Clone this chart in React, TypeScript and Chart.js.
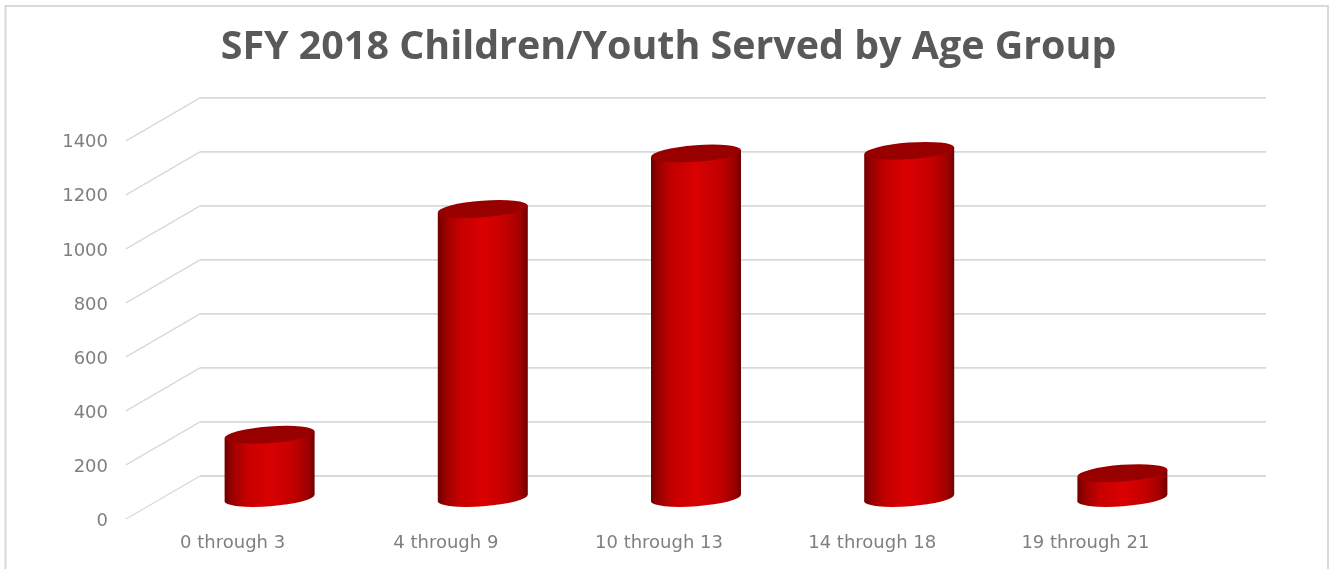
import React, { useEffect, useRef } from "react";
import { Chart, registerables } from "chart.js";

Chart.register(...registerables);

const titleText = "SFY 2018 Children/Youth Served by Age Group";
const categories = ["0 through 3", "4 through 9", "10 through 13", "14 through 18", "19 through 21"];
const served = [234, 1070, 1275, 1285, 92];
const yMax = 1400;
const yStep = 200;

const TITLE_FONT = '"Open Sans", sans-serif';
const TICK_FONT = '"DejaVu Sans", sans-serif';
const DEPTH_X = 74;
const DEPTH_Y = 42;
const BAR_DX = 37;
const BAR_DY = 20;
const TILT = -0.075;
const RY = 8.3;

const wallPlugin = {
  id: "wall3d",
  afterLayout(chart: any) {
    if (chart.titleBlock) {
      chart.titleBlock.left = 4;
      chart.titleBlock.right = 1333;
    }
  },
  beforeDraw(chart: any) {
    const { ctx, width, height } = chart;
    ctx.save();
    ctx.fillStyle = "#ffffff";
    ctx.fillRect(0, 0, width, height);
    ctx.strokeStyle = "#d9d9d9";
    ctx.lineWidth = 2;
    ctx.beginPath();
    ctx.moveTo(5.5, height);
    ctx.lineTo(5.5, 6);
    ctx.lineTo(1328, 6);
    ctx.lineTo(1328, height);
    ctx.stroke();
    const area = chart.chartArea;
    const y = chart.scales.y;
    y.ticks.forEach((t: any) => {
      const py = y.getPixelForValue(t.value);
      ctx.strokeStyle = "#d9d9d9";
      ctx.lineWidth = 1.4;
      ctx.beginPath();
      ctx.moveTo(area.left, py + 1);
      ctx.lineTo(area.left + DEPTH_X, py - DEPTH_Y);
      ctx.stroke();
      ctx.lineWidth = 1.8;
      ctx.beginPath();
      ctx.moveTo(area.left + DEPTH_X, py - DEPTH_Y);
      ctx.lineTo(area.right + DEPTH_X, py - DEPTH_Y);
      ctx.stroke();
    });
    ctx.restore();
  },
};

const cylinderPlugin = {
  id: "cylinder3d",
  beforeDatasetsDraw(chart: any) {
    const { ctx } = chart;
    const meta = chart.getDatasetMeta(0);
    meta.data.forEach((bar: any) => {
      const cx = bar.x + BAR_DX;
      const top = bar.y - BAR_DY;
      const base = bar.base - BAR_DY;
      const rx = bar.width / 2;
      const slope = Math.tan(TILT) * rx;
      const left = cx - rx;
      const right = cx + rx;
      const g = ctx.createLinearGradient(left, 0, right, 0);
      g.addColorStop(0, "#700000");
      g.addColorStop(0.1, "#a00000");
      g.addColorStop(0.25, "#c60000");
      g.addColorStop(0.5, "#da0000");
      g.addColorStop(0.75, "#c40000");
      g.addColorStop(0.92, "#a00000");
      g.addColorStop(1, "#700000");
      ctx.save();
      ctx.fillStyle = g;
      ctx.beginPath();
      ctx.moveTo(left, top - slope);
      ctx.lineTo(right, top + slope);
      ctx.lineTo(right, base + slope);
      ctx.lineTo(left, base - slope);
      ctx.closePath();
      ctx.fill();
      ctx.beginPath();
      ctx.ellipse(cx, base, rx / Math.cos(TILT), RY, TILT, 0, Math.PI * 2);
      ctx.fill();
      ctx.fillStyle = "#980000";
      ctx.beginPath();
      ctx.ellipse(cx, top, rx / Math.cos(TILT), RY, TILT, 0, Math.PI * 2);
      ctx.fill();
      ctx.restore();
    });
    return false;
  },
};

export default function App() {
  const ref = useRef<HTMLCanvasElement | null>(null);
  useEffect(() => {
    document.body.style.margin = "0";
    const chart = new Chart(ref.current as HTMLCanvasElement, {
      type: "bar",
      data: {
        labels: categories,
        datasets: [
          {
            label: "Children/Youth Served",
            data: served,
            backgroundColor: "#c80000",
            barPercentage: 1,
            categoryPercentage: 90 / 213.2,
          },
        ],
      },
      options: {
        responsive: false,
        animation: false,
        events: [],
        layout: { padding: { left: 0, right: 141, top: 0, bottom: 0 } },
        plugins: {
          legend: { display: false },
          tooltip: { enabled: false },
          title: {
            display: true,
            text: titleText,
            color: "#595959",
            font: { family: TITLE_FONT, size: 39.4, weight: "bold", lineHeight: 1.2 },
            padding: { top: 24, bottom: 68.5 },
          },
        },
        scales: {
          x: {
            grid: { display: false },
            border: { display: false },
            afterFit: (s: any) => { s.height = 51; },
            ticks: { color: "#7f7f7f", font: { family: TICK_FONT, size: 18 }, padding: 7, maxRotation: 0 },
          },
          y: {
            min: 0,
            max: yMax,
            grid: { display: false },
            border: { display: false },
            afterFit: (s: any) => { s.width = 126; },
            ticks: {
              stepSize: yStep,
              color: "#7f7f7f",
              font: { family: TICK_FONT, size: 18 },
              padding: 10,
              labelOffset: 3,
              callback: (v: any) => String(v),
            },
          },
        },
      } as any,
      plugins: [wallPlugin, cylinderPlugin],
    });
    return () => chart.destroy();
  }, []);
  return <canvas ref={ref} width={1333} height={569} style={{ display: "block", width: 1333, height: 569 }} />;
}
